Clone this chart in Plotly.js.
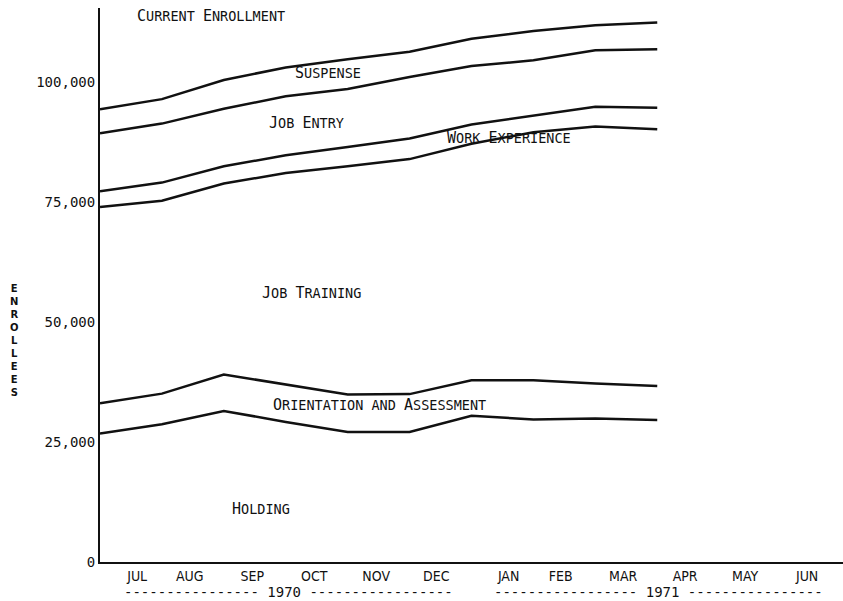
<!DOCTYPE html>
<html>
<head>
<meta charset="utf-8">
<script src="https://cdn.plot.ly/plotly-3.0.1.min.js"></script>
<style>html,body{margin:0;padding:0;background:#fff;}#chart{width:843px;height:601px;}</style>
</head>
<body>
<div id="chart"></div>
<script>
// Month boundaries (start of JUL 1970 = 0 ... end of MAR 1971 = 9)
var monthBoundary = [0, 1, 2, 3, 4, 5, 6, 7, 8, 9];

// Cumulative enrollee boundaries (top of each band)
var currentEnrollment = [94400, 96500, 100500, 103100, 104800, 106400, 109100, 110700, 111900, 112500];
var suspenseBottom    = [89400, 91400, 94500, 97100, 98600, 101100, 103400, 104600, 106700, 106900];
var jobEntryBottom    = [77300, 79100, 82500, 84800, 86500, 88300, 91200, 93100, 94900, 94700];
var workExpBottom     = [74000, 75300, 78900, 81100, 82500, 84000, 87200, 89600, 90800, 90200];
var jobTrainingBottom = [33100, 35100, 39100, 37000, 34900, 35000, 37900, 37900, 37200, 36700];
var orientationBottom = [26800, 28700, 31500, 29200, 27100, 27100, 30500, 29700, 29900, 29600];

// Axis labels
var monthLabels = ["JUL", "AUG", "SEP", "OCT", "NOV", "DEC", "JAN", "FEB", "MAR", "APR", "MAY", "JUN"];
var monthLabelPos = [0.6, 1.45, 2.46, 3.46, 4.46, 5.43, 6.6, 7.44, 8.45, 9.45, 10.42, 11.42];
var yTickVals = [0, 25000, 50000, 75000, 100000];

// Band labels
var bandNames = ["Current Enrollment", "Suspense", "Job Entry", "Work Experience", "Job Training", "Orientation and Assessment", "Holding"];
var bandLabelX = [1.8, 3.69, 3.34, 6.61, 3.41, 4.51, 2.60];
var bandLabelY = [113900, 101900, 91500, 88300, 56000, 32700, 11000];

var allSeries = [currentEnrollment, suspenseBottom, jobEntryBottom, workExpBottom, jobTrainingBottom, orientationBottom];

var traces = allSeries.map(function (s) {
  return {
    x: monthBoundary, y: s, type: "scatter", mode: "lines",
    line: {color: "#111", width: 2.5}, hoverinfo: "skip", showlegend: false
  };
});

var SMALL = "<span style=\"font-size:13.5px\">";
function smallCaps(str) {
  return str.split(" ").map(function (w) {
    var first = w.charAt(0);
    var isCap = first === first.toUpperCase();
    if (!isCap) return SMALL + w.toUpperCase() + "</span>";
    var rest = w.slice(1).toUpperCase();
    return first + (rest ? SMALL + rest + "</span>" : "");
  }).join(SMALL + " </span>");
}

var labelFont = {family: "DejaVu Sans Mono, Liberation Mono, monospace", size: 15, color: "#111"};
var annotations = bandNames.map(function (n, i) {
  return {
    x: bandLabelX[i], y: bandLabelY[i], xref: "x", yref: "y",
    text: smallCaps(n), showarrow: false, font: labelFont,
    xanchor: "center", yanchor: "middle"
  };
});

var yearFont = {family: "DejaVu Sans Mono, Liberation Mono, monospace", size: 14, color: "#111"};
annotations.push({
  x: 3.05, y: -0.054, xref: "x", yref: "paper", showarrow: false,
  text: "---------------- 1970 -----------------", font: yearFont, xanchor: "center", yanchor: "middle"
});
annotations.push({
  x: 9.02, y: -0.054, xref: "x", yref: "paper", showarrow: false,
  text: "----------------- 1971 ----------------", font: yearFont, xanchor: "center", yanchor: "middle"
});
annotations.push({
  x: (14 - 100) / 743, y: (562 - 340) / 554, xref: "paper", yref: "paper", showarrow: false,
  text: "E<br>N<br>R<br>O<br>L<br>L<br>E<br>E<br>S",
  font: {family: "DejaVu Sans, sans-serif", size: 10, color: "#111", weight: "bold"},
  xanchor: "center", yanchor: "middle"
});

var layout = {
  width: 843, height: 601,
  margin: {l: 100, r: 0, t: 8, b: 39},
  paper_bgcolor: "#fff", plot_bgcolor: "#fff",
  showlegend: false,
  xaxis: {
    range: [0, 12], showgrid: false, zeroline: false,
    showline: true, linecolor: "#111", linewidth: 2,
    tickvals: monthLabelPos, ticktext: monthLabels,
    ticks: "", ticklen: 0,
    tickfont: {family: "DejaVu Sans Condensed, Liberation Sans Narrow, DejaVu Sans, sans-serif", size: 14, color: "#111"},
    fixedrange: true
  },
  yaxis: {
    range: [0, 115500], showgrid: false, zeroline: false,
    showline: true, linecolor: "#111", linewidth: 2,
    tickvals: yTickVals, tickformat: ",",
    ticks: "", ticklen: 0,
    tickfont: {family: "DejaVu Sans Mono, Liberation Mono, monospace", size: 14, color: "#111"},
    fixedrange: true
  },
  annotations: annotations
};

Plotly.newPlot("chart", traces, layout, {displayModeBar: false, staticPlot: true});
</script>
</body>
</html>
